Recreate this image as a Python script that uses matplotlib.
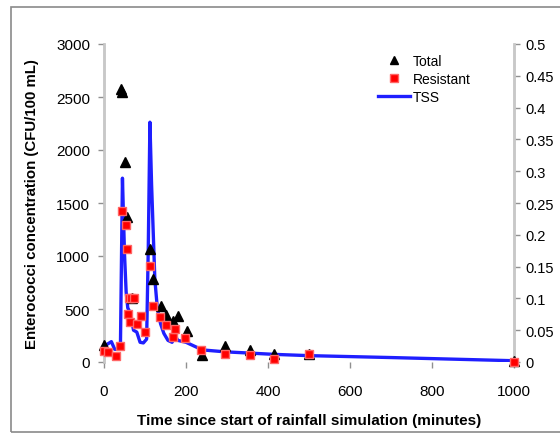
import matplotlib
matplotlib.use('Agg')
import matplotlib.pyplot as plt
from matplotlib.patches import Rectangle
from matplotlib.lines import Line2D

plt.rcParams['font.family'] = ['Liberation Sans', 'DejaVu Sans']

# Total enterococci (CFU/100 mL)
total_t = [0, 42, 45, 51, 57, 68, 112, 120, 138, 151, 168, 180, 202, 238, 295, 356, 415, 500, 1000]
total_v = [160, 2580, 2550, 1890, 1370, 600, 1070, 780, 530, 440, 390, 437, 295, 70, 150, 110, 75, 80, 10]

# Resistant enterococci (CFU/100 mL)
res_t = [0, 10, 29, 39, 44, 54, 55, 62, 66, 72, 58, 63, 80, 90, 100, 112, 120, 137, 151, 169, 173, 198, 237, 295, 356, 415, 500, 1000]
res_v = [107, 94, 57, 154, 1425, 1292, 1066, 604, 604, 604, 453, 377, 358, 434, 283, 905, 528, 425, 349, 236, 311, 226, 115, 75, 66, 28, 75, 0]

# TSS (right axis)
tss_t = [0, 8, 18, 26, 40, 45, 50, 54, 58, 62, 66, 72, 80, 88, 96, 104, 108, 112, 116, 124,
         130, 138, 146, 156, 166, 174, 180, 200, 220, 240, 295, 356, 415, 500, 700, 1000]
tss_v = [0.022, 0.028, 0.032, 0.020, 0.020, 0.289, 0.17, 0.11, 0.085, 0.08, 0.07, 0.05, 0.047,
         0.031, 0.030, 0.036, 0.18, 0.377, 0.28, 0.13, 0.085, 0.06, 0.045, 0.034, 0.031, 0.041,
         0.034, 0.031, 0.025, 0.019, 0.016, 0.014, 0.012, 0.010, 0.007, 0.002]

fig = plt.figure(figsize=(5.6, 4.35), dpi=100)
fig.patches.append(Rectangle((11/560, 2/435), 1.0, 425/435, transform=fig.transFigure,
                             fill=False, edgecolor='#8a8a8a', linewidth=1.2))

ax = fig.add_axes([104/560, 1 - 363/435, 410/560, 318/435])
ax2 = ax.twinx()

ax2.plot(tss_t, tss_v, color='#1f1fff', linewidth=2.4, zorder=3)
ax.plot(total_t, total_v, linestyle='none', marker='^', color='black', markersize=6.5, clip_on=False, zorder=4)
ax.plot(res_t, res_v, linestyle='none', marker='s', color='#ff0000', markeredgecolor='#ff6666',
        markersize=6, clip_on=False, zorder=5)
ax.set_zorder(ax2.get_zorder() + 1)
ax.patch.set_visible(False)

ax.set_xlim(0, 1000)
ax.set_ylim(0, 3000)
ax2.set_ylim(0, 0.5)
ax.set_xticks(range(0, 1001, 200))
ax.set_yticks(range(0, 3001, 500))
ax2.set_yticks([0, 0.05, 0.1, 0.15, 0.2, 0.25, 0.3, 0.35, 0.4, 0.45, 0.5])
ax2.set_yticklabels(['0', '0.05', '0.1', '0.15', '0.2', '0.25', '0.3', '0.35', '0.4', '0.45', '0.5'])

for a in (ax, ax2):
    a.spines['top'].set_visible(False)
    a.spines['bottom'].set_visible(False)
    a.spines['left'].set_color('#c8c8c8')
    a.spines['right'].set_color('#c8c8c8')
    a.spines['left'].set_linewidth(1.8)
    a.spines['right'].set_linewidth(1.8)
    a.tick_params(colors='#909090', labelcolor='black', labelsize=11, length=4, width=1)

ax.tick_params(axis='x', pad=12)
ax.tick_params(axis='y', pad=6)
ax2.tick_params(axis='y', pad=4, labelsize=10.5)

ax.set_xlabel('Time since start of rainfall simulation (minutes)', fontsize=11, fontweight='bold', labelpad=11)
ax.set_ylabel('Enterococci concentration (CFU/100 mL)', fontsize=10.8, fontweight='bold', labelpad=12)

handles = [Line2D([], [], linestyle='none', marker='^', color='black', markersize=6),
           Line2D([], [], linestyle='none', marker='s', color='#ff0000', markeredgecolor='#ff6666', markersize=6),
           Line2D([], [], color='#1f1fff', linewidth=2.4)]
ax.legend(handles, ['Total', 'Resistant', 'TSS'], loc='upper left', bbox_to_anchor=(264/410, 1.0),
          frameon=False, fontsize=10, handlelength=2.3, handletextpad=0.25, labelspacing=0.3,
          borderaxespad=0.3)

fig.savefig('out.png', dpi=100)
